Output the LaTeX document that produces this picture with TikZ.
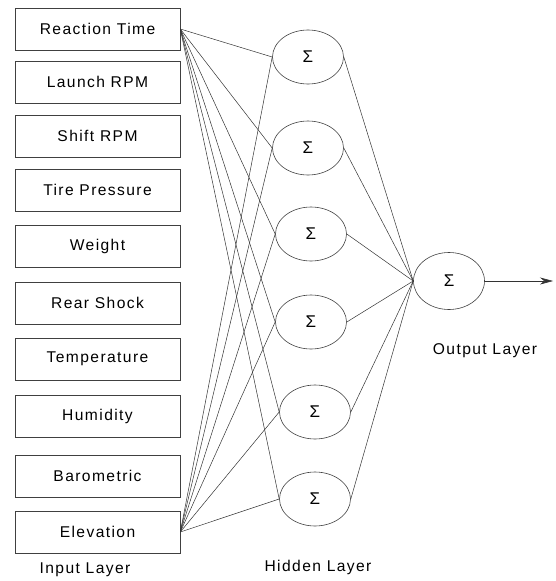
\documentclass[tikz,border=0pt]{standalone}
\usepackage{fontspec}
\setmainfont{Liberation Sans}[LetterSpace=9]
\usetikzlibrary{arrows.meta,shapes.geometric}

\begin{document}
\begin{tikzpicture}[x=1pt,y=-1pt,
    inbox/.style={draw=black!75,line width=0.6pt,rectangle,
      minimum width=165pt,minimum height=42pt,inner sep=0pt,
      font=\fontsize{15.6}{18}\selectfont},
    sumnode/.style={draw=black!75,line width=0.6pt,ellipse,
      minimum width=71pt,minimum height=54pt,inner sep=0pt,
      font=\fontsize{17}{18}\selectfont},
    layer/.style={font=\fontsize{15.6}{18}\selectfont},
    wire/.style={draw=black!80,line width=0.5pt}]
      \useasboundingbox (0,0) rectangle (555,581);
      \draw
        (97.5,29) node[inbox] (i0){Reaction Time}
        (97.5,82) node[inbox] (i1){Launch RPM}
        (97.5,136) node[inbox] (i2){Shift RPM}
        (97.5,190) node[inbox] (i3){Tire Pressure}
        (97.5,246) node[inbox] (i4){Weight}
        (97.5,303) node[inbox] (i5){Rear Shock}
        (97.5,359) node[inbox] (i6){Temperature}
        (97.5,416) node[inbox] (i7){Humidity}
        (97.5,476) node[inbox] (i8){Barometric}
        (97.5,532) node[inbox] (i9){Elevation};
      \draw
        (308,57) node[sumnode] (h0){Σ}
        (308,148) node[sumnode] (h1){Σ}
        (311,234) node[sumnode] (h2){Σ}
        (311,322) node[sumnode] (h3){Σ}
        (315,412) node[sumnode] (h4){Σ}
        (315,499) node[sumnode] (h5){Σ}
        (449,281) node[sumnode,minimum height=57pt] (out){Σ};
      \node[layer] (inlab) at (85,570) {Input Layer};
      \node[layer] (hidlab) at (318,567) {Hidden Layer};
      \node[layer] (outlab) at (485,351) {Output Layer};
      \coordinate (end) at (553,281);
      \begin{scope}[wire]
        \draw (i0.east) to (h0.west);
        \draw (i0.east) to (h1.west);
        \draw (i0.east) to (h2.west);
        \draw (i0.east) to (h3.west);
        \draw (i0.east) to (h4.west);
        \draw (i0.east) to (h5.west);
        \draw (i9.east) to (h0.west);
        \draw (i9.east) to (h1.west);
        \draw (i9.east) to (h2.west);
        \draw (i9.east) to (h3.west);
        \draw (i9.east) to (h4.west);
        \draw (i9.east) to (h5.west);
        \draw (h0.east) to (out.west);
        \draw (h1.east) to (out.west);
        \draw (h2.east) to (out.west);
        \draw (h3.east) to (out.west);
        \draw (h4.east) to (out.west);
        \draw (h5.east) to (out.west);
      \end{scope}
      \draw[wire,-{Stealth[length=13pt,width=7pt]}] (out.east) to (end);
    \end{tikzpicture}
\end{document}
